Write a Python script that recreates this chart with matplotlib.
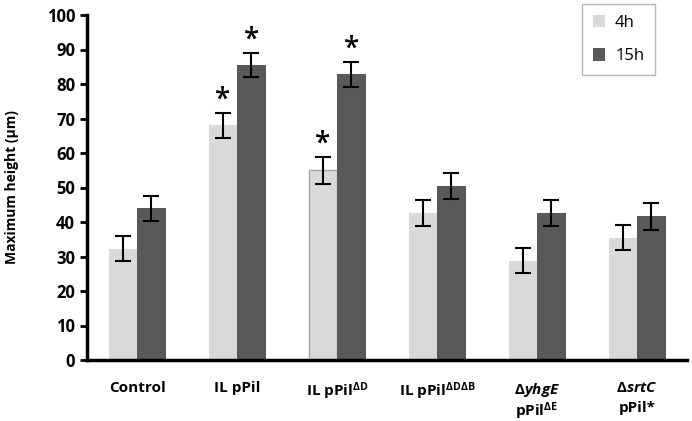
import numpy as np
import matplotlib.pyplot as plt

groups = ["Control", "IL pPil", r"IL pPil$^{\mathbf{\Delta D}}$", r"IL pPil$^{\mathbf{\Delta D\Delta B}}$",
          "yhgE", "srtC"]
h4 = [32.3, 68.0, 55.0, 42.6, 28.8, 35.4]
h4_err = [3.7, 3.6, 3.9, 3.7, 3.6, 3.6]
h15 = [44.0, 85.5, 82.8, 50.4, 42.6, 41.6]
h15_err = [3.6, 3.5, 3.6, 3.7, 3.7, 3.9]
star4 = [False, True, True, False, False, False]
star15 = [False, True, True, False, False, False]

plt.rcParams['font.family'] = ['Open Sans', 'DejaVu Sans']
plt.rcParams['mathtext.fontset'] = 'custom'
plt.rcParams['mathtext.rm'] = 'Open Sans'
plt.rcParams['mathtext.bf'] = 'Open Sans:bold'
plt.rcParams['mathtext.it'] = 'Open Sans:italic'
plt.rcParams['mathtext.bfit'] = 'Open Sans:bold:italic'

fig = plt.figure(figsize=(6.92, 4.21), dpi=100)
ax = fig.add_axes([87 / 692, 61 / 421, 600 / 692, 345 / 421])

x = np.arange(len(groups))
w = 0.285
light = "#d9d9d9"
dark = "#595959"
ekw = dict(elinewidth=1.5, capthick=1.5, ecolor="black")

b1 = ax.bar(x - w / 2, h4, w, color=light, yerr=h4_err, capsize=6, error_kw=ekw, label="4h")
b2 = ax.bar(x + w / 2, h15, w, color=dark, yerr=h15_err, capsize=6, error_kw=ekw, label="15h")
b1[2].set_edgecolor("#a6a6a6")
b1[2].set_linewidth(1)

for i in range(len(groups)):
    if star4[i]:
        ax.text(x[i] - w / 2, h4[i] + h4_err[i] - 0.5, "*", ha="center", va="bottom",
                fontsize=20, fontweight="semibold")
    if star15[i]:
        ax.text(x[i] + w / 2, h15[i] + h15_err[i] - 0.5, "*", ha="center", va="bottom",
                fontsize=20, fontweight="semibold")

ax.set_xlim(-0.5, 5.5)
ax.set_ylim(0, 100)
ax.set_yticks(np.arange(0, 101, 10))
ax.tick_params(axis="y", labelsize=12, width=2, length=5)
for lab in ax.get_yticklabels():
    lab.set_fontweight("bold")
ax.set_ylabel("Maximum height (µm)", fontsize=10, fontweight="bold", labelpad=20)

for s in ["top", "right"]:
    ax.spines[s].set_visible(False)
for s in ["left", "bottom"]:
    ax.spines[s].set_linewidth(2.5)

ax.set_xticks([])
for i in range(4):
    ax.text(x[i], -6, groups[i], ha="center", va="top", fontsize=11, fontweight="bold")
ax.text(x[4], -6, r"$\mathbf{\Delta}\bfit{yhgE}$", ha="center", va="top", fontsize=11)
ax.text(x[4], -11.8, r"pPil$^{\mathbf{\Delta E}}$", ha="center", va="top", fontsize=11, fontweight="bold")
ax.text(x[5], -6, r"$\mathbf{\Delta}\bfit{srtC}$", ha="center", va="top", fontsize=11)
ax.text(x[5], -11.8, "pPil*", ha="center", va="top", fontsize=11, fontweight="bold")

leg = ax.legend(loc="upper right", bbox_to_anchor=(655 / 692, 1 - 4 / 421), bbox_transform=fig.transFigure,
                fontsize=12, frameon=True, fancybox=False, handlelength=0.75, handleheight=0.75,
                labelspacing=1.05, borderpad=0.65, handletextpad=0.6, borderaxespad=0)
leg.get_frame().set_edgecolor("#a6a6a6")
leg.get_frame().set_linewidth(1)

fig.savefig("out.png", dpi=100)
